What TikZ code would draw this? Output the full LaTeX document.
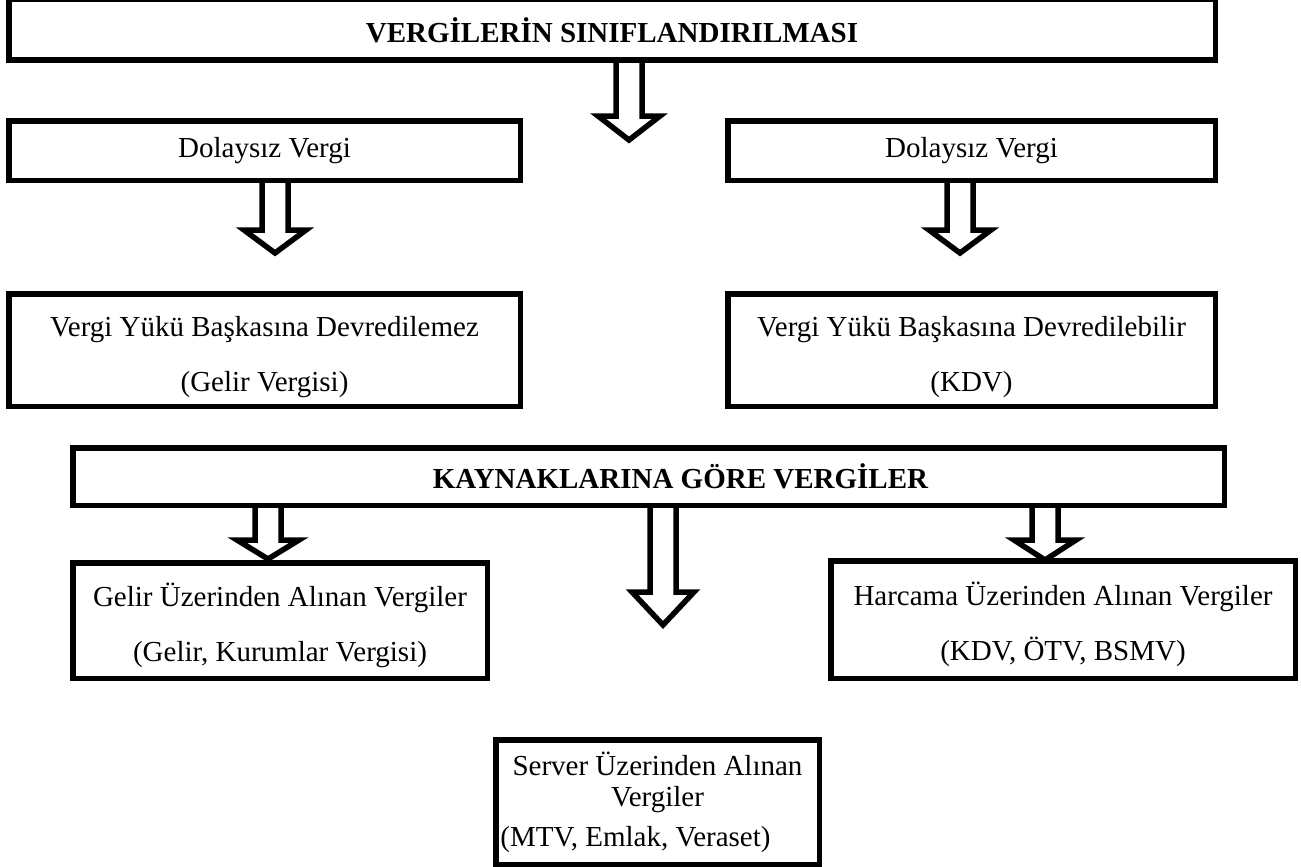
\documentclass[tikz,border=0pt]{standalone}
\usepackage{fontspec}
\setmainfont{Liberation Serif}
\usepackage{tikz}

% hollow block arrow hanging below a box: box, x, shoulder, tip
\newcommand{\blockarrow}[4]{%
\draw[hollow] (#2-13,0 |- #1.south) -- (#2-13,#3) -- (#2-31,#3) -- (#2,#4)
  -- (#2+31,#3) -- (#2+13,#3) -- (#2+13,0 |- #1.south);}
\newcommand{\tall}{\rule{0pt}{34pt}}

\tikzset{
  box/.style={draw,line width=5.5pt,inner sep=0pt,align=center,
    font=\fontsize{29}{55}\selectfont},
  headbox/.style={box,font=\fontsize{29}{35}\selectfont\bfseries},
  hollow/.style={draw,line width=5.5pt,line join=miter}
}

\begin{document}
\begin{tikzpicture}[x=1pt,y=-1pt]
\useasboundingbox (0,0) rectangle (1301,867);

% title node
\node[headbox,minimum width=1206.5,minimum height=60.5] (tit) at (612,30)
  {VERGİLERİN SINIFLANDIRILMASI};

% dolaysiz nodes
\node[box,minimum width=511.5,minimum height=59.5] (dolL) at (264.5,150.5) {Dolaysız Vergi};
\node[box,minimum width=487.5,minimum height=59.5] (dolR) at (971.5,150.5) {Dolaysız Vergi};

% yuk nodes
\node[box,minimum width=511.5,minimum height=112.5] (yukL) at (264.5,350)
  {\tall Vergi Yükü Başkasına Devredilemez\\(Gelir Vergisi)};
\node[box,minimum width=487.5,minimum height=112.5] (yukR) at (971.5,350)
  {\tall Vergi Yükü Başkasına Devredilebilir\\(KDV)};

\blockarrow{tit}{629}{116}{140}
\blockarrow{dolL}{275}{230}{253}
\blockarrow{dolR}{960}{230}{253}

% kaynak node
\node[headbox,minimum width=1151.5,minimum height=57.5] (kayn) at (648.5,476.5)
  {\hspace*{64pt}KAYNAKLARINA GÖRE VERGİLER};

% gelir, harcama, servet nodes
\node[box,minimum width=414.5,minimum height=115.5] (gelir) at (280,620.5)
  {\tall Gelir Üzerinden Alınan Vergiler\\(Gelir, Kurumlar Vergisi)};
\node[box,minimum width=464.5,minimum height=117.5] (harc) at (1063,619.5)
  {\tall Harcama Üzerinden Alınan Vergiler\\(KDV, ÖTV, BSMV)};
\node[box,minimum width=323.5,minimum height=124.5,
  font=\fontsize{29}{31}\selectfont] (serv) at (657.5,802)
  {Server Üzerinden Alınan\\Vergiler\\[9pt](MTV, Emlak, Veraset)\hspace*{44pt}};

\blockarrow{kayn}{268}{540}{559}
\blockarrow{kayn}{663}{592}{625}
\blockarrow{kayn}{1045}{540}{560}

\end{tikzpicture}
\end{document}
